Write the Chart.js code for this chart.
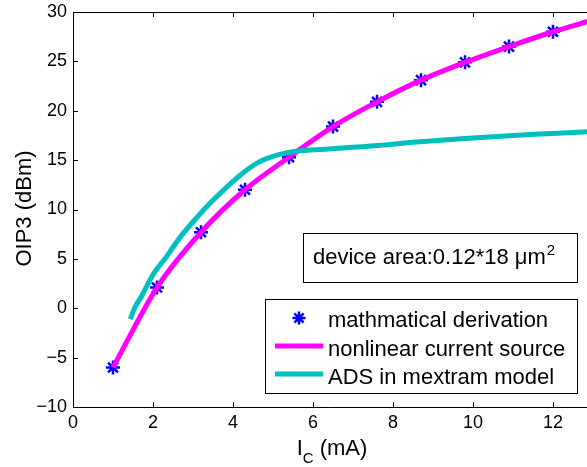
<!DOCTYPE html>
<html><head><meta charset="utf-8">
<script src="https://cdn.jsdelivr.net/npm/chart.js@4.4.1/dist/chart.umd.min.js"></script>
<style>html,body{margin:0;padding:0;background:#fff;overflow:hidden}#wrap{width:587px;height:467px}</style>
</head><body><div id="wrap"><canvas id="c" width="587" height="467"></canvas></div>
<script>
// ---- data ----
const derivX = [1, 2.1, 3.2, 4.3, 5.4, 6.5, 7.6, 8.7, 9.8, 10.9, 12.0];
const derivY = [-6.0, 2.1, 7.7, 12.0, 15.3, 18.4, 20.9, 23.1, 24.9, 26.5, 28.0];
const nlX = [1, 2.1, 3.2, 4.3, 5.4, 6.5, 7.6, 8.7, 9.8, 10.9, 12.0, 13.0];
const nlY = [-6.0, 2.1, 7.7, 12.0, 15.3, 18.4, 20.9, 23.1, 24.9, 26.5, 28.0, 29.2];
const adsX = [1.43, 1.55, 1.73, 2.0, 2.35, 2.68, 3.1, 3.43, 3.85, 4.25, 4.6, 5.1, 5.6, 6.3, 7.0, 7.7, 8.5, 9.8, 11.0, 12.0, 13.0];
const adsY = [-1.1, 0.1, 1.35, 3.4, 5.3, 7.2, 9.2, 10.65, 12.3, 13.7, 14.7, 15.5, 15.9, 16.1, 16.3, 16.5, 16.8, 17.2, 17.5, 17.7, 17.9];
const xTicks = [0, 2, 4, 6, 8, 10, 12];
const yTicks = [-10, -5, 0, 5, 10, 15, 20, 25, 30];
const seriesNames = ['mathmatical derivation', 'nonlinear current source', 'ADS in mextram model'];
const annotationText = 'device area:0.12*18 \u03BCm';
const annotationSup = '2';
const xTitle = ['I', 'C', ' (mA)'];
const yTitle = 'OIP3 (dBm)';

const FONT = '"Liberation Sans", Arial, sans-serif';
const MAG = '#ff00ff', CYA = '#00bfbf', BLU = '#0000ff';
const pts = (xs, ys) => xs.map((x, i) => ({x, y: ys[i]}));
const fmt = v => (v < 0 ? '\u2212' + Math.abs(v) : String(v));

const overlay = {
  id: 'overlay',
  afterDraw(chart) {
    const ctx = chart.ctx, a = chart.chartArea;
    const xs = chart.scales.x, ys = chart.scales.y;
    ctx.save();
    ctx.strokeStyle = '#000'; ctx.lineWidth = 1;
    // axes box (left, bottom, top)
    ctx.beginPath();
    ctx.moveTo(a.left + 0.5, a.top + 0.5); ctx.lineTo(a.left + 0.5, a.bottom + 0.5);
    ctx.lineTo(chart.width, a.bottom + 0.5);
    ctx.moveTo(a.left + 0.5, a.top + 0.5); ctx.lineTo(chart.width, a.top + 0.5);
    // inward ticks
    xTicks.forEach(v => {
      const p = Math.round(xs.getPixelForValue(v)) + 0.5;
      ctx.moveTo(p, a.bottom); ctx.lineTo(p, a.bottom - 5);
      ctx.moveTo(p, a.top); ctx.lineTo(p, a.top + 5);
    });
    yTicks.forEach(v => {
      const p = Math.round(ys.getPixelForValue(v)) + 0.5;
      ctx.moveTo(a.left, p); ctx.lineTo(a.left + 5, p);
    });
    ctx.stroke();

    // annotation box
    ctx.fillStyle = '#fff';
    ctx.fillRect(303.5, 233.5, 274, 49);
    ctx.strokeRect(303.5, 233.5, 274, 49);
    ctx.fillStyle = '#000';
    ctx.font = '22px ' + FONT;
    ctx.textBaseline = 'alphabetic'; ctx.textAlign = 'left';
    ctx.fillText(annotationText, 313, 264);
    const w = ctx.measureText(annotationText).width;
    ctx.font = '15px ' + FONT;
    ctx.fillText(annotationSup, 313 + w + 1, 255);

    // legend box
    ctx.fillStyle = '#fff';
    ctx.fillRect(265.5, 299.5, 312, 94);
    ctx.strokeStyle = '#000';
    ctx.strokeRect(265.5, 299.5, 312, 94);
    const base = [327, 355.5, 384];
    ctx.font = '22px ' + FONT; ctx.fillStyle = '#000';
    base.forEach((y, i) => ctx.fillText(seriesNames[i], 328, y));
    // asterisk sample
    ctx.strokeStyle = BLU; ctx.lineWidth = 2.5;
    ctx.beginPath();
    const cx = 299, cy = 318, r = 6.5;
    for (let k = 0; k < 4; k++) {
      const ang = k * Math.PI / 4;
      ctx.moveTo(cx - r * Math.cos(ang), cy - r * Math.sin(ang));
      ctx.lineTo(cx + r * Math.cos(ang), cy + r * Math.sin(ang));
    }
    ctx.stroke();
    ctx.lineWidth = 5;
    ctx.strokeStyle = MAG;
    ctx.beginPath(); ctx.moveTo(275, 346); ctx.lineTo(323, 346); ctx.stroke();
    ctx.strokeStyle = CYA;
    ctx.beginPath(); ctx.moveTo(275, 374); ctx.lineTo(323, 374); ctx.stroke();

    // axis titles
    ctx.fillStyle = '#000';
    ctx.font = '22px ' + FONT;
    ctx.textBaseline = 'alphabetic'; ctx.textAlign = 'left';
    const w0 = ctx.measureText(xTitle[0]).width;
    ctx.font = '15px ' + FONT;
    const w1 = ctx.measureText(xTitle[1]).width;
    ctx.font = '22px ' + FONT;
    const w2 = ctx.measureText(xTitle[2]).width;
    const tot = w0 + w1 + w2;
    let sx = 332 - tot / 2;
    const by = 455;
    ctx.fillText(xTitle[0], sx, by);
    ctx.font = '15px ' + FONT;
    ctx.fillText(xTitle[1], sx + w0, by + 8);
    ctx.font = '22px ' + FONT;
    ctx.fillText(xTitle[2], sx + w0 + w1, by);

    ctx.translate(31, 208.5);
    ctx.rotate(-Math.PI / 2);
    ctx.textAlign = 'center';
    ctx.fillText(yTitle, 0, 0);
    ctx.restore();
  }
};

new Chart(document.getElementById('c'), {
  type: 'scatter',
  data: {
    datasets: [
      { label: seriesNames[0], data: pts(derivX, derivY), showLine: false,
        pointStyle: 'star', radius: 7, borderWidth: 2.5, borderColor: BLU, backgroundColor: BLU, order: 3 },
      { label: seriesNames[1], data: pts(nlX, nlY), showLine: true, pointRadius: 0,
        borderColor: MAG, borderWidth: 5, cubicInterpolationMode: 'monotone', order: 2 },
      { label: seriesNames[2], data: pts(adsX, adsY), showLine: true, pointRadius: 0,
        borderColor: CYA, borderWidth: 5, cubicInterpolationMode: 'monotone', order: 1 }
    ]
  },
  options: {
    responsive: false, animation: false, devicePixelRatio: 1,
    layout: { autoPadding: false, padding: { left: 0, right: 0, top: 12, bottom: 0 } },
    plugins: { legend: { display: false }, tooltip: { enabled: false } },
    scales: {
      x: {
        type: 'linear', min: 0, max: 12.85,
        afterBuildTicks: s => { s.ticks = xTicks.map(v => ({value: v})); },
        afterFit: s => { s.height = 60; s.paddingRight = 0; s.paddingLeft = 0; },
        grid: { display: false, drawTicks: false }, border: { display: false },
        ticks: { color: '#000', font: { family: FONT, size: 18 }, padding: 5, maxRotation: 0, callback: fmt }
      },
      y: {
        type: 'linear', min: -10, max: 30,
        afterBuildTicks: s => { s.ticks = yTicks.map(v => ({value: v})); },
        afterFit: s => { s.width = 73; s.paddingTop = 0; s.paddingBottom = 0; },
        grid: { display: false, drawTicks: false }, border: { display: false },
        ticks: { color: '#000', font: { family: FONT, size: 18 }, padding: 6, callback: fmt }
      }
    }
  },
  plugins: [overlay]
});
</script></body></html>
